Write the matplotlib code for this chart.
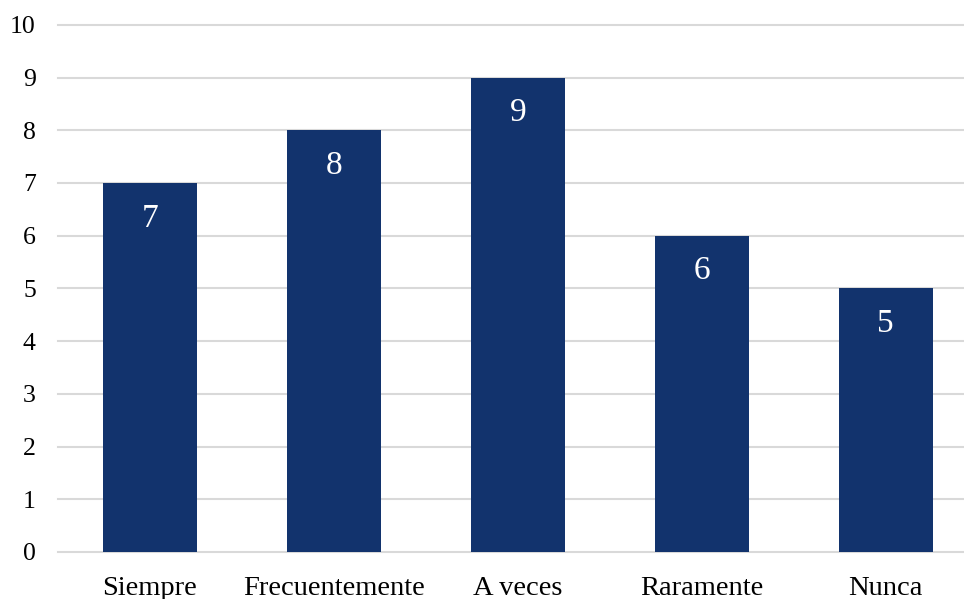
import matplotlib.pyplot as plt

plt.rcParams['font.family'] = ['Liberation Serif', 'DejaVu Serif']

categories = ['Siempre', 'Frecuentemente', 'A veces', 'Raramente', 'Nunca']
counts = [7, 8, 9, 6, 5]
y_ticks = list(range(0, 11))

bar_color = '#12336D'
grid_color = '#D9D9D9'

fig = plt.figure(figsize=(9.64, 5.99), dpi=100)
# the last category runs a little past the right edge of the canvas
ax = fig.add_axes([0.0602, 0.0785, 0.954, 0.880])

x = range(len(categories))
bars = ax.bar(x, counts, width=0.51, color=bar_color, zorder=3)

for b, v in zip(bars, counts):
    ax.text(b.get_x() + b.get_width() / 2, v - 0.67, str(v),
            ha='center', va='center', color='white', fontsize=24, zorder=4)

ax.set_xlim(-0.5, len(categories) - 0.5)
ax.set_ylim(0, 10)
ax.set_yticks(y_ticks)
ax.yaxis.grid(True, color=grid_color, linewidth=1.5, zorder=0)
for gl in ax.get_ygridlines():
    gl.set_clip_on(False)
ax.set_axisbelow(True)

ax.set_xticks(list(x))
ax.set_xticklabels(categories, fontsize=20.5)
ax.tick_params(axis='y', labelsize=18.5, length=0, pad=16)
ax.tick_params(axis='x', length=0, pad=17)

for s in ax.spines.values():
    s.set_visible(False)

fig.savefig('out.png', dpi=100)
